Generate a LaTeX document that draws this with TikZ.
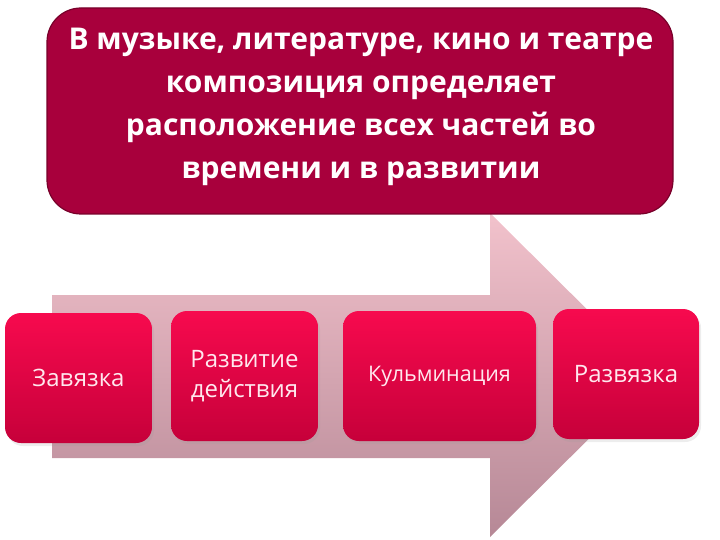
\documentclass[tikz,border=0pt]{standalone}
\usepackage{fontspec}
\setmainfont{Open Sans}
\definecolor{topfill}{HTML}{A8003C}
\definecolor{topedge}{HTML}{78002A}
\definecolor{boxtop}{HTML}{F70A4E}
\definecolor{boxbot}{HTML}{C6003A}
\definecolor{arrtop}{HTML}{F2C2CC}
\definecolor{arrbot}{HTML}{B68896}
\definecolor{boxtxt}{HTML}{FFE8EE}
\tikzset{
  topbox/.style={draw=topedge, line width=1.2pt, fill=topfill, rounded corners=34pt, inner sep=0pt},
  toptext/.style={text=white, align=center, font=\fontsize{30}{43}\selectfont\bfseries, inner sep=0pt},
  stagebox/.style={rounded corners=16pt, top color=boxtop, bottom color=boxbot,
    draw=none, text=boxtxt, align=center, inner sep=0pt, font=\fontsize{24}{30}\selectfont},
  shade/.style={fill=black!40, opacity=0.18, rounded corners=16pt}
}
\begin{document}
\begin{tikzpicture}[x=1pt,y=-1pt]
\useasboundingbox (0,0) rectangle (720,540);
% arrow
\path[top color=arrtop, bottom color=arrbot]
  (52,295) -- (490,295) -- (490,213) -- (653,375) -- (490,537) -- (490,458) -- (52,458) -- cycle;
% top box
\node[topbox, minimum width=626pt, minimum height=206pt] (top) at (360,111) {};
\node[toptext] (txt) at (361,107)
  {В музыке, литературе, кино и театре\\композиция определяет\\расположение всех частей во\\времени и в развитии};
% shadows
\fill[shade] (7,316) rectangle (154,446);
\fill[shade] (173,314) rectangle (320,444);
\fill[shade] (345,314) rectangle (538,444);
\fill[shade] (555,312) rectangle (701,442);
% stage boxes
\node[stagebox, minimum width=147pt, minimum height=130pt] (s1) at (78.5,378) {Завязка};
\node[stagebox, minimum width=147pt, minimum height=130pt] (s2) at (244.5,376) {Развитие\\действия};
\node[stagebox, minimum width=193pt, minimum height=130pt, font=\fontsize{21.5}{28}\selectfont] (s3) at (439.5,376) {Кульминация};
\node[stagebox, minimum width=146pt, minimum height=130pt] (s4) at (626,374) {Развязка};
\end{tikzpicture}
\end{document}
